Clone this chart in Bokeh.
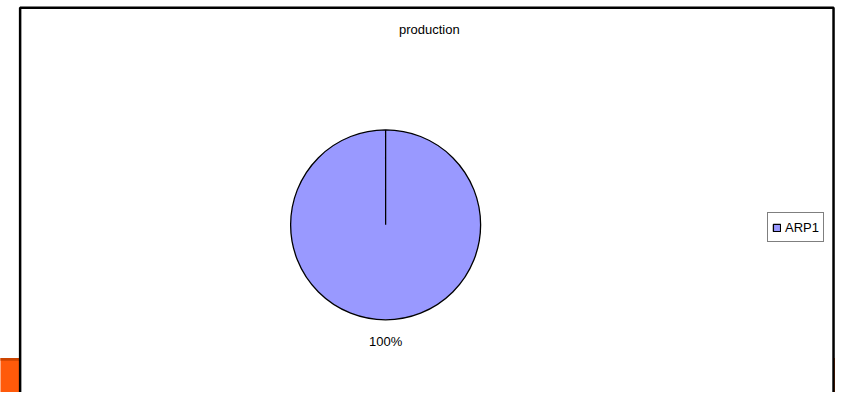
import math
from bokeh.plotting import figure
from bokeh.models import Range1d, ColumnDataSource, Legend, LegendItem
from bokeh.core.properties import value
from bokeh.embed import file_html
from bokeh.resources import INLINE

# data
categories = ["ARP1"]
values = [100.0]
colors = ["#9999FF"]
title_text = "production"

# figure in pixels; data space spans the reference's 851 x 408 canvas
W, H = 835, 392
RW, RH = 851, 408
sx, sy = W / RW, H / RH

p = figure(width=W, height=H, output_backend="svg", toolbar_location=None,
           x_range=Range1d(0, RW), y_range=Range1d(0, RH),
           x_axis_location=None, y_axis_location=None, min_border=0)
p.grid.visible = False
p.outline_line_color = None
p.background_fill_color = "white"
p.border_fill_color = "white"

FONT_NAME = "Liberation Sans"
FONT = value(FONT_NAME)

# orange slide decoration behind the chart box
p.quad(left=[-10], right=[20], bottom=[-10], top=[36], fill_color="#FF5A0A", line_color=None)
p.quad(left=[-10], right=[20], bottom=[33], top=[36], fill_color="#CC4400", line_color=None)
p.quad(left=[849], right=[870], bottom=[-10], top=[36], fill_color="#FF5A0A", line_color=None)

# chart area box
p.quad(left=[20], right=[849], bottom=[-10], top=[400.5], fill_color="white",
       line_color="black", line_width=2.5)

# title
p.text(x=[437], y=[378], text=[title_text], text_font=FONT, text_font_size="13px",
       text_align="center", text_baseline="middle", text_color="black")

# pie (clockwise from 12 o'clock)
cx, cy, r = 392.5, 174.5, 95
total = sum(values)
starts, ends, mids = [], [], []
acc = 0.0
for v in values:
    a0 = math.pi / 2 - 2 * math.pi * acc / total
    acc += v
    a1 = math.pi / 2 - 2 * math.pi * acc / total
    starts.append(a1 + 2 * math.pi)
    ends.append(a0 + 2 * math.pi)
    mids.append((a0 + a1) / 2)

src = ColumnDataSource(dict(start=starts, end=ends, color=colors, cat=categories))
wr = p.wedge(x=cx, y=cy, radius=r, radius_units="screen", start_angle="start",
             end_angle="end", fill_color="color", line_color="black", line_width=1.3,
             source=src)

# percentage labels outside the pie
lab_r = r + 21.5
lx = [cx + lab_r * math.cos(m) / sx for m in mids]
ly = [cy + lab_r * math.sin(m) / sy for m in mids]
pct = [f"{round(100 * v / total)}%" for v in values]
p.text(x=lx, y=ly, text=pct, text_font=FONT, text_font_size="13px",
       text_align="center", text_baseline="middle", text_color="black")

# legend
legend = Legend(items=[LegendItem(label=categories[0], renderers=[wr])],
                location=(767, 150), orientation="vertical",
                glyph_width=9, glyph_height=9, label_standoff=4, padding=4,
                margin=0, spacing=0, label_height=20,
                label_text_font=FONT_NAME, label_text_font_size="13px",
                label_text_color="black",
                border_line_color="black", border_line_width=1,
                background_fill_color="white", background_fill_alpha=1)
p.add_layout(legend, "center")

open("out.html", "w").write(file_html(p, INLINE))
